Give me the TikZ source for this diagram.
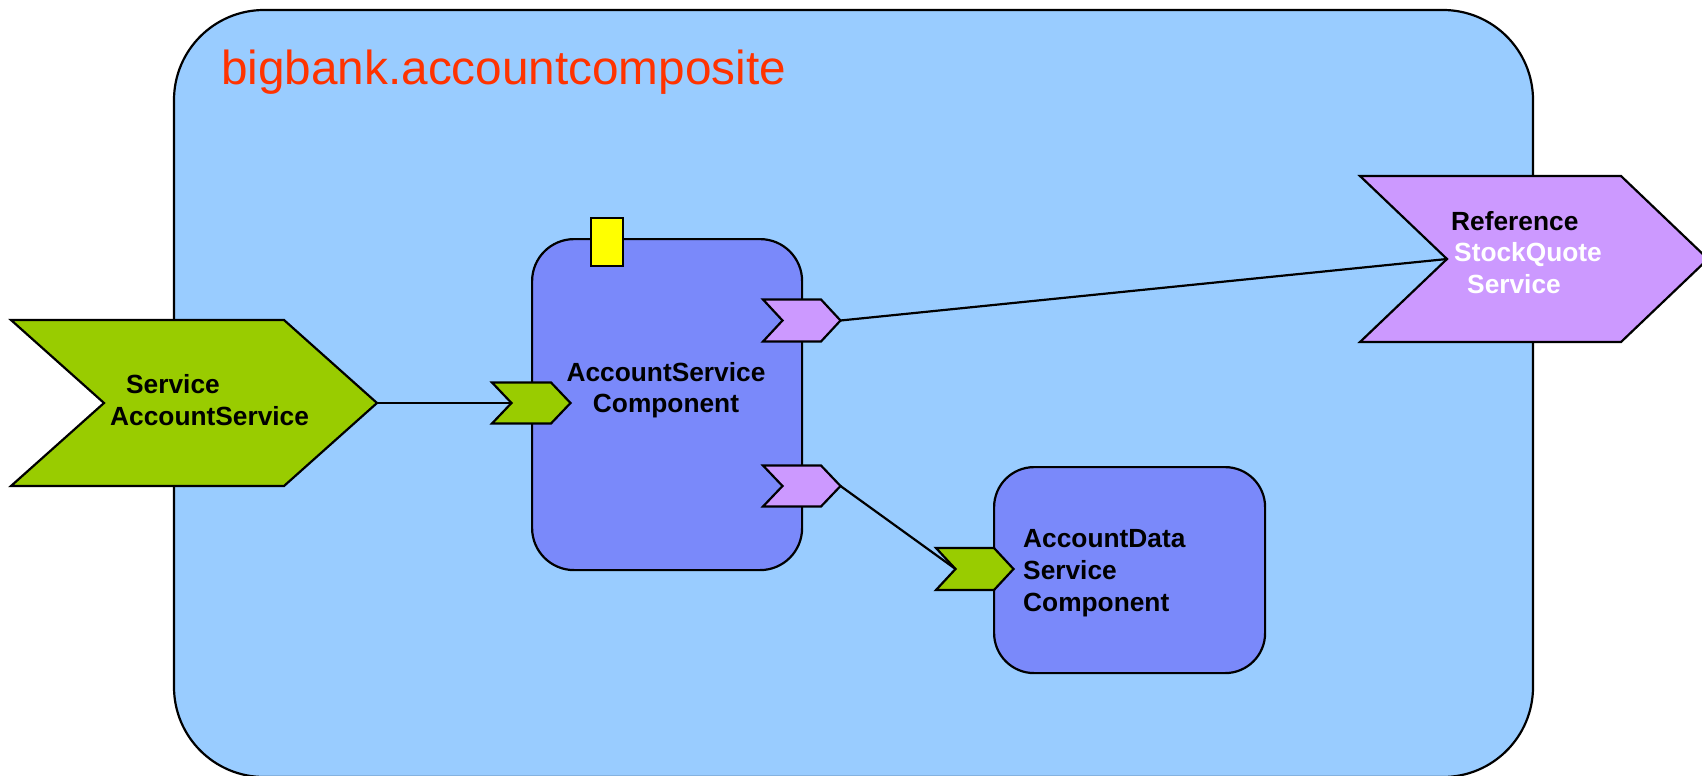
\documentclass[tikz,border=0pt]{standalone}
\usepackage{fontspec}
\setmainfont{Liberation Sans}

\definecolor{compositebg}{RGB}{153,204,255}
\definecolor{compfill}{RGB}{122,137,250}
\definecolor{svcgreen}{RGB}{153,204,0}
\definecolor{refpurple}{RGB}{204,153,255}
\definecolor{propyellow}{RGB}{255,255,0}
\definecolor{titlered}{RGB}{255,51,0}

% Chevron: name, style, left x, top y, shoulder x, half height, point depth
\newcommand{\chevronshape}[7]{%
  \draw[#2] (#3,#4) -- (#5,#4) -- ({#5+#7},{#4+#6}) -- (#5,{#4+2*#6})
    -- (#3,{#4+2*#6}) -- ({#3+#7},{#4+#6}) -- cycle;
  \coordinate (#1-tip) at ({#5+#7},{#4+#6});
  \coordinate (#1-notch) at ({#3+#7},{#4+#6});
}

\begin{document}
\begin{tikzpicture}[x=1pt, y=-1pt,
  outline/.style={draw=black, line width=2.2pt, line join=miter},
  servicefill/.style={outline, fill=svcgreen},
  referencefill/.style={outline, fill=refpurple},
  component/.style={outline, fill=compfill, inner sep=0pt, anchor=north west},
  wire/.style={draw=black, line width=2.2pt},
  label/.style={inner sep=0pt, font=\fontsize{26.3}{32}\selectfont\bfseries},
]
\useasboundingbox (0,0) rectangle (1702,776);
\fill[white] (0,0) rectangle (1702,776);

% composite
\draw[outline, fill=compositebg, rounded corners=90pt] (174,10) rectangle (1533,777);
\node[anchor=base west, inner sep=0pt, text=titlered,
      font=\fontsize{47.7}{57}\selectfont] (title) at (221,84.3) {bigbank.accountcomposite};

% components
\node[component, rounded corners=42pt, minimum width=270pt, minimum height=331pt] (asc) at (531,238) {};
\node[component, rounded corners=40pt, minimum width=271pt, minimum height=206pt] (adc) at (993,466) {};
\node[outline, fill=propyellow, inner sep=0pt, anchor=north west,
      minimum width=32pt, minimum height=48pt] (prop) at (590,217) {};

% promoted service and reference
\chevronshape{svc}{servicefill}{11}{320}{284}{83}{93}
\chevronshape{ref}{referencefill}{1360}{176}{1621}{83}{87}

% component ports
\chevronshape{ascin}{servicefill}{492}{382.5}{551}{20.5}{19.5}
\chevronshape{ascref1}{referencefill}{763}{299.5}{821}{21}{19.5}
\chevronshape{ascref2}{referencefill}{763}{465.5}{821}{20.5}{19.5}
\chevronshape{adcin}{servicefill}{936}{548}{994}{21}{19.5}

% wires
\draw[wire] (svc-tip) -- (ascin-notch);
\draw[wire] (ascref1-tip) -- (ref-notch);
\draw[wire] (ascref2-tip) -- (adcin-notch);

% labels
\node[label, anchor=base west] (svc-l1) at (126,393) {Service};
\node[label, anchor=base west] (svc-l2) at (110,425) {AccountService};

\node[label, anchor=base] (asc-l1) at (666,381.7) {AccountService};
\node[label, anchor=base] (asc-l2) at (666,412.7) {Component};

\node[label, anchor=base west] (adc-l1) at (1023,547) {AccountData};
\node[label, anchor=base west] (adc-l2) at (1023,579.3) {Service};
\node[label, anchor=base west] (adc-l3) at (1023,611.7) {Component};

\node[label, anchor=base west] (ref-l1) at (1451,230) {Reference};
\node[label, anchor=base west, text=white] (ref-l2) at (1454,261.7) {StockQuote};
\node[label, anchor=base west, text=white] (ref-l3) at (1467,293.3) {Service};
\end{tikzpicture}
\end{document}
